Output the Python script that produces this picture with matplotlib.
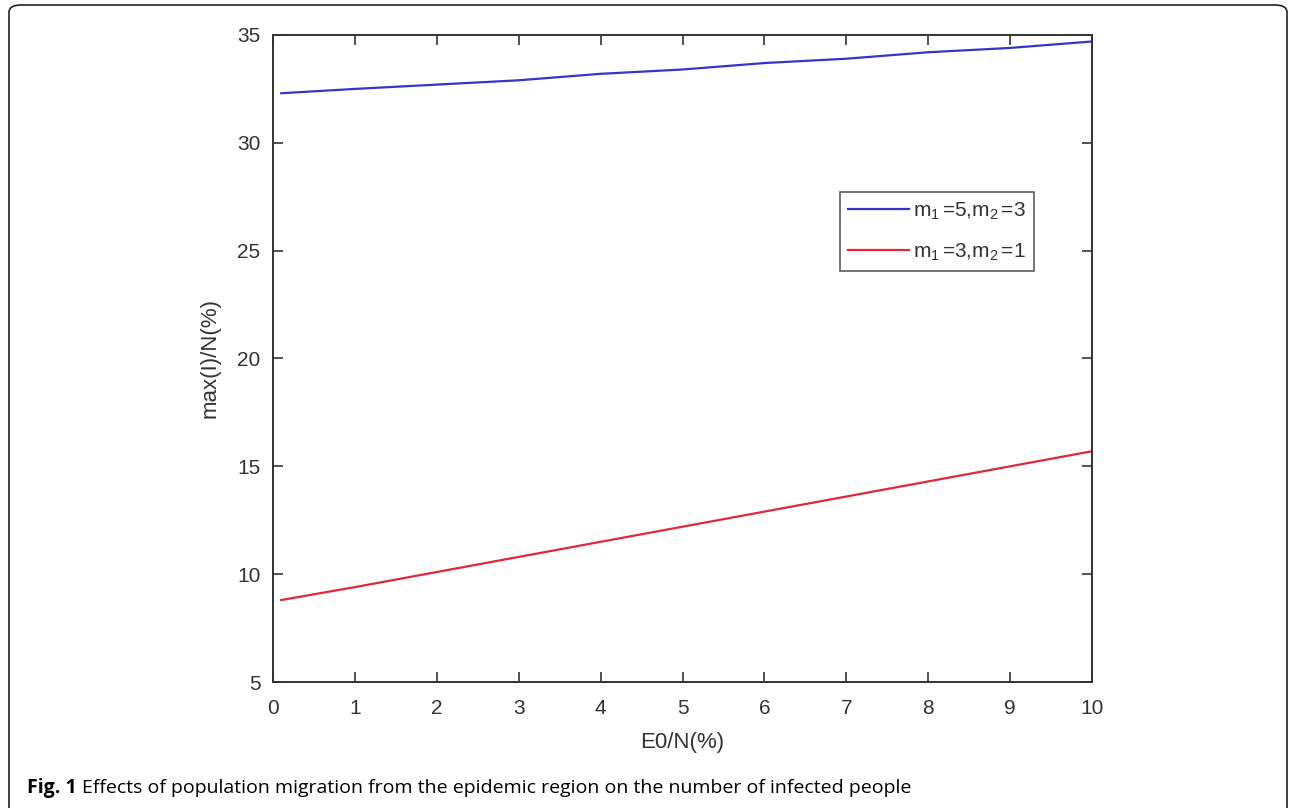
import matplotlib.pyplot as plt
from matplotlib.patches import FancyBboxPatch

# values
e0 = [0.1, 1, 2, 3, 4, 5, 6, 7, 8, 9, 10]
blue_vals = [32.3, 32.5, 32.7, 32.9, 33.2, 33.4, 33.7, 33.9, 34.2, 34.4, 34.7]
red_vals = [8.8, 9.4, 10.1, 10.8, 11.5, 12.2, 12.9, 13.6, 14.3, 15.0, 15.7]
labels = [r'm$_1\,$=5,m$_2\,$=3', r'm$_1\,$=3,m$_2\,$=1']
xticks = list(range(0, 11))
yticks = [5, 10, 15, 20, 25, 30, 35]
caption_bold = 'Fig. 1'
caption = 'Effects of population migration from the epidemic region on the number of infected people'

plt.rcParams['font.family'] = ['Liberation Sans', 'DejaVu Sans']
plt.rcParams['mathtext.fontset'] = 'custom'
plt.rcParams['mathtext.rm'] = 'Liberation Sans'
plt.rcParams['mathtext.it'] = 'Liberation Sans'

fig = plt.figure(figsize=(12.9, 8.08), dpi=100)
ax = fig.add_axes([273/1290, 1-682/808, (1092-273)/1290, (682-35)/808])

ax.plot(e0, blue_vals, color='#3535cc', lw=1.6, label=labels[0])
ax.plot(e0, red_vals, color='#e2263c', lw=1.6, label=labels[1])

ax.set_xlim(0, 10)
ax.set_ylim(5, 35)
ax.set_xticks(xticks)
ax.set_yticks(yticks)
ax.tick_params(direction='in', length=7, width=1.2, top=True, right=True,
               labelsize=15, color='#333333', labelcolor='#333333')
ax.tick_params(axis='x', pad=12)
ax.tick_params(axis='y', pad=9)
for s in ax.spines.values():
    s.set_linewidth(1.4)
    s.set_color('#333333')

ax.set_xlabel('E0/N(%)', fontsize=16, color='#333333', labelpad=10)
ax.set_ylabel('max(I)/N(%)', fontsize=16, color='#333333', labelpad=12)

leg = ax.legend(loc='upper left', bbox_to_anchor=((840-273)/819, 1-(192-35)/647),
                fontsize=15, frameon=True, fancybox=False, handlelength=2.9,
                handletextpad=0.2, borderpad=0.4, labelspacing=0.95, borderaxespad=0)
leg.get_frame().set_edgecolor('#333333')
leg.get_frame().set_linewidth(1.2)
for t in leg.get_texts():
    t.set_color('#333333')

# caption and rounded frame around the figure
fig.text(27/1290, 1-788/808, caption_bold, fontsize=14, fontweight='bold', va='center',
         family='Open Sans')
fig.text(82/1290, 1-788/808, caption, fontsize=14, va='center', family='Open Sans')
box = FancyBboxPatch((9/1290, -0.02), (1287-9)/1290, 1-5/808+0.02,
                     boxstyle='round,pad=0,rounding_size=0.009', transform=fig.transFigure,
                     fill=False, edgecolor='#222222', lw=1.2)
fig.patches.append(box)

fig.savefig('out.png', dpi=100)
